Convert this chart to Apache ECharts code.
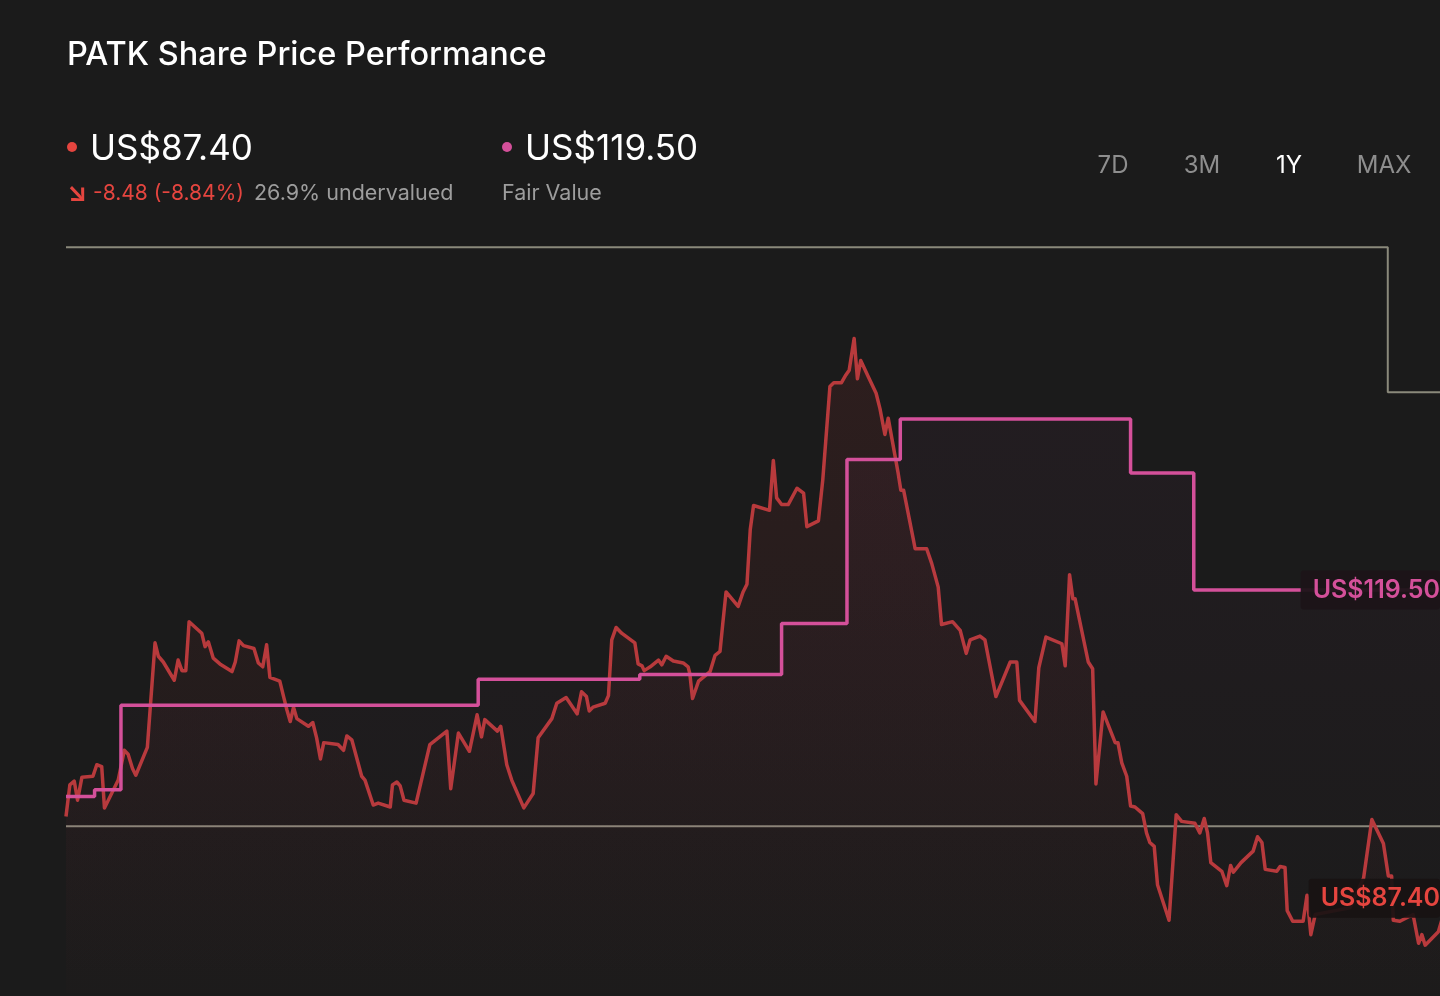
<!DOCTYPE html>
<html>
<head>
    <meta charset="utf-8"/>
    <title>PATK Share Price Performance</title>
    <style>
        html, body { margin: 0; padding: 0; background: #1b1b1b; }
        #main { width: 1440px; height: 996px; }
    </style>
</head>
<body>
<script type="text/javascript" src="https://cdn.jsdelivr.net/npm/echarts@6.0.0/dist/echarts.min.js"></script>

<div id="main"></div>

<script type="text/javascript">
    // [trading day, price]
    var priceData = [
        [0, 95.9], [0.7, 99.2], [1.5, 99.6], [2.1, 97.6], [2.9, 100.0], [4.9, 100.1], [5.6, 101.3],
        [6.5, 101.1], [7.0, 96.8], [8.3, 98.3], [9.5, 99.7], [10.6, 102.8], [11.3, 102.4], [12.1, 100.9],
        [12.7, 100.2], [14.8, 103.1], [15.3, 107.0], [16.2, 114.0], [16.8, 112.6], [17.7, 112.0],
        [19.7, 110.1], [20.4, 112.2], [21.1, 111.1], [21.8, 111.1], [22.4, 116.2], [24.7, 115.0],
        [25.3, 113.6], [25.9, 114.1], [26.8, 112.4], [28.0, 111.8], [30.2, 111.0], [30.8, 112.0],
        [31.5, 114.2], [32.3, 113.7], [34.2, 113.4], [35.0, 111.9], [35.8, 111.5], [36.5, 113.8],
        [37.1, 110.4], [38.9, 110.0], [39.5, 108.6], [40.2, 107.0], [40.8, 105.8], [41.4, 107.3],
        [42.0, 106.1], [44.1, 105.3], [44.9, 105.7], [45.6, 104.1], [46.3, 101.9], [46.9, 103.6],
        [49.5, 103.4], [50.5, 102.8], [51.1, 104.3], [52.0, 103.9], [53.8, 100.1], [54.4, 99.7],
        [55.9, 97.1], [56.8, 97.3], [59.0, 96.9], [59.4, 99.2], [60.2, 99.5], [60.8, 99.1],
        [61.5, 97.6], [63.7, 97.3], [66.2, 103.4], [69.3, 104.8], [70.0, 98.8], [71.4, 104.6],
        [73.4, 102.7], [74.8, 106.5], [75.6, 104.2], [76.2, 106.0], [78.5, 104.8], [79.1, 105.3],
        [80.2, 101.3], [81.1, 99.7], [83.3, 96.8], [85.0, 98.3], [85.9, 104.1], [88.4, 106.1],
        [89.3, 107.7], [91.0, 108.3], [93.0, 106.6], [93.8, 108.9], [94.7, 108.4], [95.2, 106.9],
        [95.9, 107.3], [98.1, 107.7], [98.7, 108.5], [99.3, 114.3], [100.1, 115.6], [101.1, 115.0],
        [103.5, 114.0], [104.1, 111.8], [104.8, 111.6], [105.2, 111.1], [106.3, 111.5], [107.8, 112.2],
        [108.4, 111.7], [109.2, 112.6], [110.5, 112.1], [112.3, 111.9], [113.2, 111.5], [113.5, 110.8],
        [114.0, 108.2], [115.1, 110.0], [117.2, 111.0], [118.1, 112.7], [119.0, 113.1], [119.5, 116.0],
        [120.1, 119.3], [122.3, 117.8], [123.2, 119.3], [123.9, 120.1], [124.5, 125.8], [125.1, 128.3],
        [128.0, 127.8], [128.7, 133.0], [129.3, 129.1], [130.2, 128.4], [131.4, 128.4], [133.0, 130.1],
        [134.2, 129.6], [134.8, 126.1], [136.9, 126.7], [137.7, 131.0], [139.0, 140.7], [139.7, 141.1],
        [141.1, 141.1], [141.9, 141.9], [142.5, 142.4], [143.4, 145.7], [144.0, 141.5], [144.6, 143.4],
        [146.0, 141.7], [147.4, 140.0], [148.1, 138.4], [149.0, 135.7], [149.6, 137.4], [151.4, 131.7],
        [151.9, 129.9], [152.4, 129.9], [154.2, 124.7], [154.5, 123.8], [156.6, 123.8], [157.5, 122.3],
        [158.7, 119.8], [159.3, 115.9], [161.3, 116.2], [162.7, 115.3], [163.8, 112.9], [164.5, 114.3],
        [166.3, 114.7], [167.2, 114.3], [169.2, 108.4], [171.8, 112.0], [173.0, 112.0], [173.5, 108.0],
        [176.3, 105.8], [177.0, 111.4], [178.3, 114.6], [181.2, 113.9], [181.8, 111.6], [182.6, 121.1],
        [183.2, 118.6], [183.6, 118.6], [186.0, 112.0], [186.8, 111.3], [187.4, 99.3], [188.7, 106.8],
        [190.9, 103.6], [191.4, 103.6], [192.1, 101.5], [193.0, 100.1], [193.7, 97.0], [194.5, 96.9],
        [195.9, 96.2], [196.6, 94.2], [197.2, 93.2], [198.0, 92.8], [198.6, 88.8], [200.7, 85.1],
        [202.0, 96.1], [203.0, 95.4], [205.4, 95.2], [206.3, 94.2], [207.1, 95.7], [207.7, 94.2],
        [208.3, 91.1], [210.3, 90.2], [211.2, 88.7], [211.9, 90.8], [212.4, 90.1], [213.8, 91.1],
        [216.0, 92.3], [216.8, 93.8], [217.6, 93.2], [218.2, 90.4], [220.3, 90.2], [220.9, 90.7],
        [221.8, 90.6], [222.2, 86.1], [223.2, 85.0], [225.1, 85.0], [225.8, 87.7], [226.5, 83.6],
        [227.3, 85.7], [230.0, 86.0], [233.6, 86.4], [236.1, 89.5], [237.6, 95.6], [239.7, 93.1],
        [240.6, 89.7], [241.2, 89.7], [241.5, 85.1], [242.7, 85.0], [245.1, 85.7], [246.1, 82.7],
        [246.7, 83.6], [247.3, 82.5], [249.7, 83.9], [251.5, 87.4]
    ];

    // [trading day the estimate changed, fair value]
    var fairValueData = [
        [0, 98.0], [5.2, 98.7], [10.0, 107.5], [75.0, 110.2], [104.4, 110.7], [130.2, 116.0],
        [142.1, 133.1], [151.8, 137.3], [193.7, 131.7], [205.2, 119.5], [251.5, 119.5]
    ];

    var upperBandData = [[0, 155.2], [240.5, 140.1], [251.5, 140.1]];
    var lowerBandData = [[0, 94.9], [251.5, 94.9]];

    var lastPrice = 87.40;
    var fairValue = 119.50;
    var tabs = ['7D', '3M', '1Y', 'MAX'];
    var tabX = [1113, 1202, 1289, 1384];

    var myChart = echarts.init(document.getElementById('main'));

    var fontFamily = 'Inter, "Noto Sans", sans-serif';

    function txt(text, left, top, color, size, weight) {
        return {
            text: text, left: left, top: top, padding: 0,
            textStyle: { color: color, fontSize: size, fontWeight: weight || 400, fontFamily: fontFamily }
        };
    }

    var titles = [
        txt('PATK Share Price Performance', 67, 39, '#ffffff', 32.5, 500),
        txt('US$' + lastPrice.toFixed(2), 90, 132, '#ffffff', 35),
        txt('↘', 67, 180, '#e5453f', 26, 700),
        txt('-8.48 (-8.84%)', 93, 183, '#e5453f', 21),
        txt('26.9% undervalued', 254, 183, '#9d9d9d', 21.5),
        txt('US$' + fairValue.toFixed(2), 525, 132, '#ffffff', 35),
        txt('Fair Value', 502, 183, '#9d9d9d', 21.5)
    ];
    tabs.forEach(function (t, i) {
        var item = txt(t, tabX[i], 154, t === '1Y' ? '#ffffff' : '#8e8e8e', 24);
        item.textAlign = 'center';
        titles.push(item);
    });

    var option = {
        backgroundColor: '#1b1b1b',
        animation: false,
        title: titles,
        graphic: [
            { type: 'circle', shape: { cx: 72, cy: 147, r: 5 }, style: { fill: '#e5453f' } },
            { type: 'circle', shape: { cx: 507, cy: 147, r: 5 }, style: { fill: '#d4509a' } }
        ],
        grid: { left: 66, right: 0, top: 153.2, bottom: 2.8 },
        xAxis: { type: 'value', min: 0, max: 250, show: false },
        yAxis: { type: 'value', min: 77.5, max: 165, show: false, splitLine: { show: false } },
        series: [
            {
                name: 'Upper band',
                type: 'line',
                step: 'end',
                data: upperBandData,
                symbol: 'none',
                lineStyle: { color: '#8a897b', width: 2 },
                z: 1
            },
            {
                name: 'Lower band',
                type: 'line',
                data: lowerBandData,
                symbol: 'none',
                lineStyle: { color: '#8a897b', width: 2 },
                z: 1
            },
            {
                name: 'Share price',
                type: 'line',
                data: priceData,
                symbol: 'none',
                lineStyle: { color: '#b83a3c', width: 3.5, join: 'round' },
                areaStyle: {
                    color: new echarts.graphic.LinearGradient(0, 0, 0, 1, [
                        { offset: 0, color: 'rgba(150, 45, 45, 0.22)' },
                        { offset: 1, color: 'rgba(150, 45, 45, 0.02)' }
                    ])
                },
                markPoint: {
                    symbol: 'rect',
                    symbolSize: 0,
                    data: [{ coord: [250, lastPrice] }],
                    label: {
                        show: true, position: 'left', distance: 0,
                        formatter: 'US$' + lastPrice.toFixed(2),
                        color: '#e5453f', fontSize: 25, fontWeight: 600, fontFamily: fontFamily,
                        backgroundColor: 'rgba(24, 18, 18, 0.92)',
                        padding: [7, 0, 7, 12], borderRadius: 3
                    }
                },
                z: 2
            },
            {
                name: 'Fair Value',
                type: 'line',
                step: 'end',
                data: fairValueData,
                symbol: 'none',
                lineStyle: { color: '#d4509a', width: 3.5 },
                areaStyle: {
                    color: new echarts.graphic.LinearGradient(0, 0, 0, 1, [
                        { offset: 0, color: 'rgba(160, 60, 130, 0.08)' },
                        { offset: 1, color: 'rgba(160, 60, 130, 0)' }
                    ])
                },
                markPoint: {
                    symbol: 'rect',
                    symbolSize: 0,
                    data: [{ coord: [250, fairValue] }],
                    label: {
                        show: true, position: 'left', distance: 0,
                        formatter: 'US$' + fairValue.toFixed(2),
                        color: '#d4509a', fontSize: 25, fontWeight: 600, fontFamily: fontFamily,
                        backgroundColor: 'rgba(28, 20, 24, 0.95)',
                        padding: [7, 0, 7, 12], borderRadius: 3
                    }
                },
                z: 3
            }
        ]
    };

    myChart.setOption(option);
</script>
</body>
</html>
